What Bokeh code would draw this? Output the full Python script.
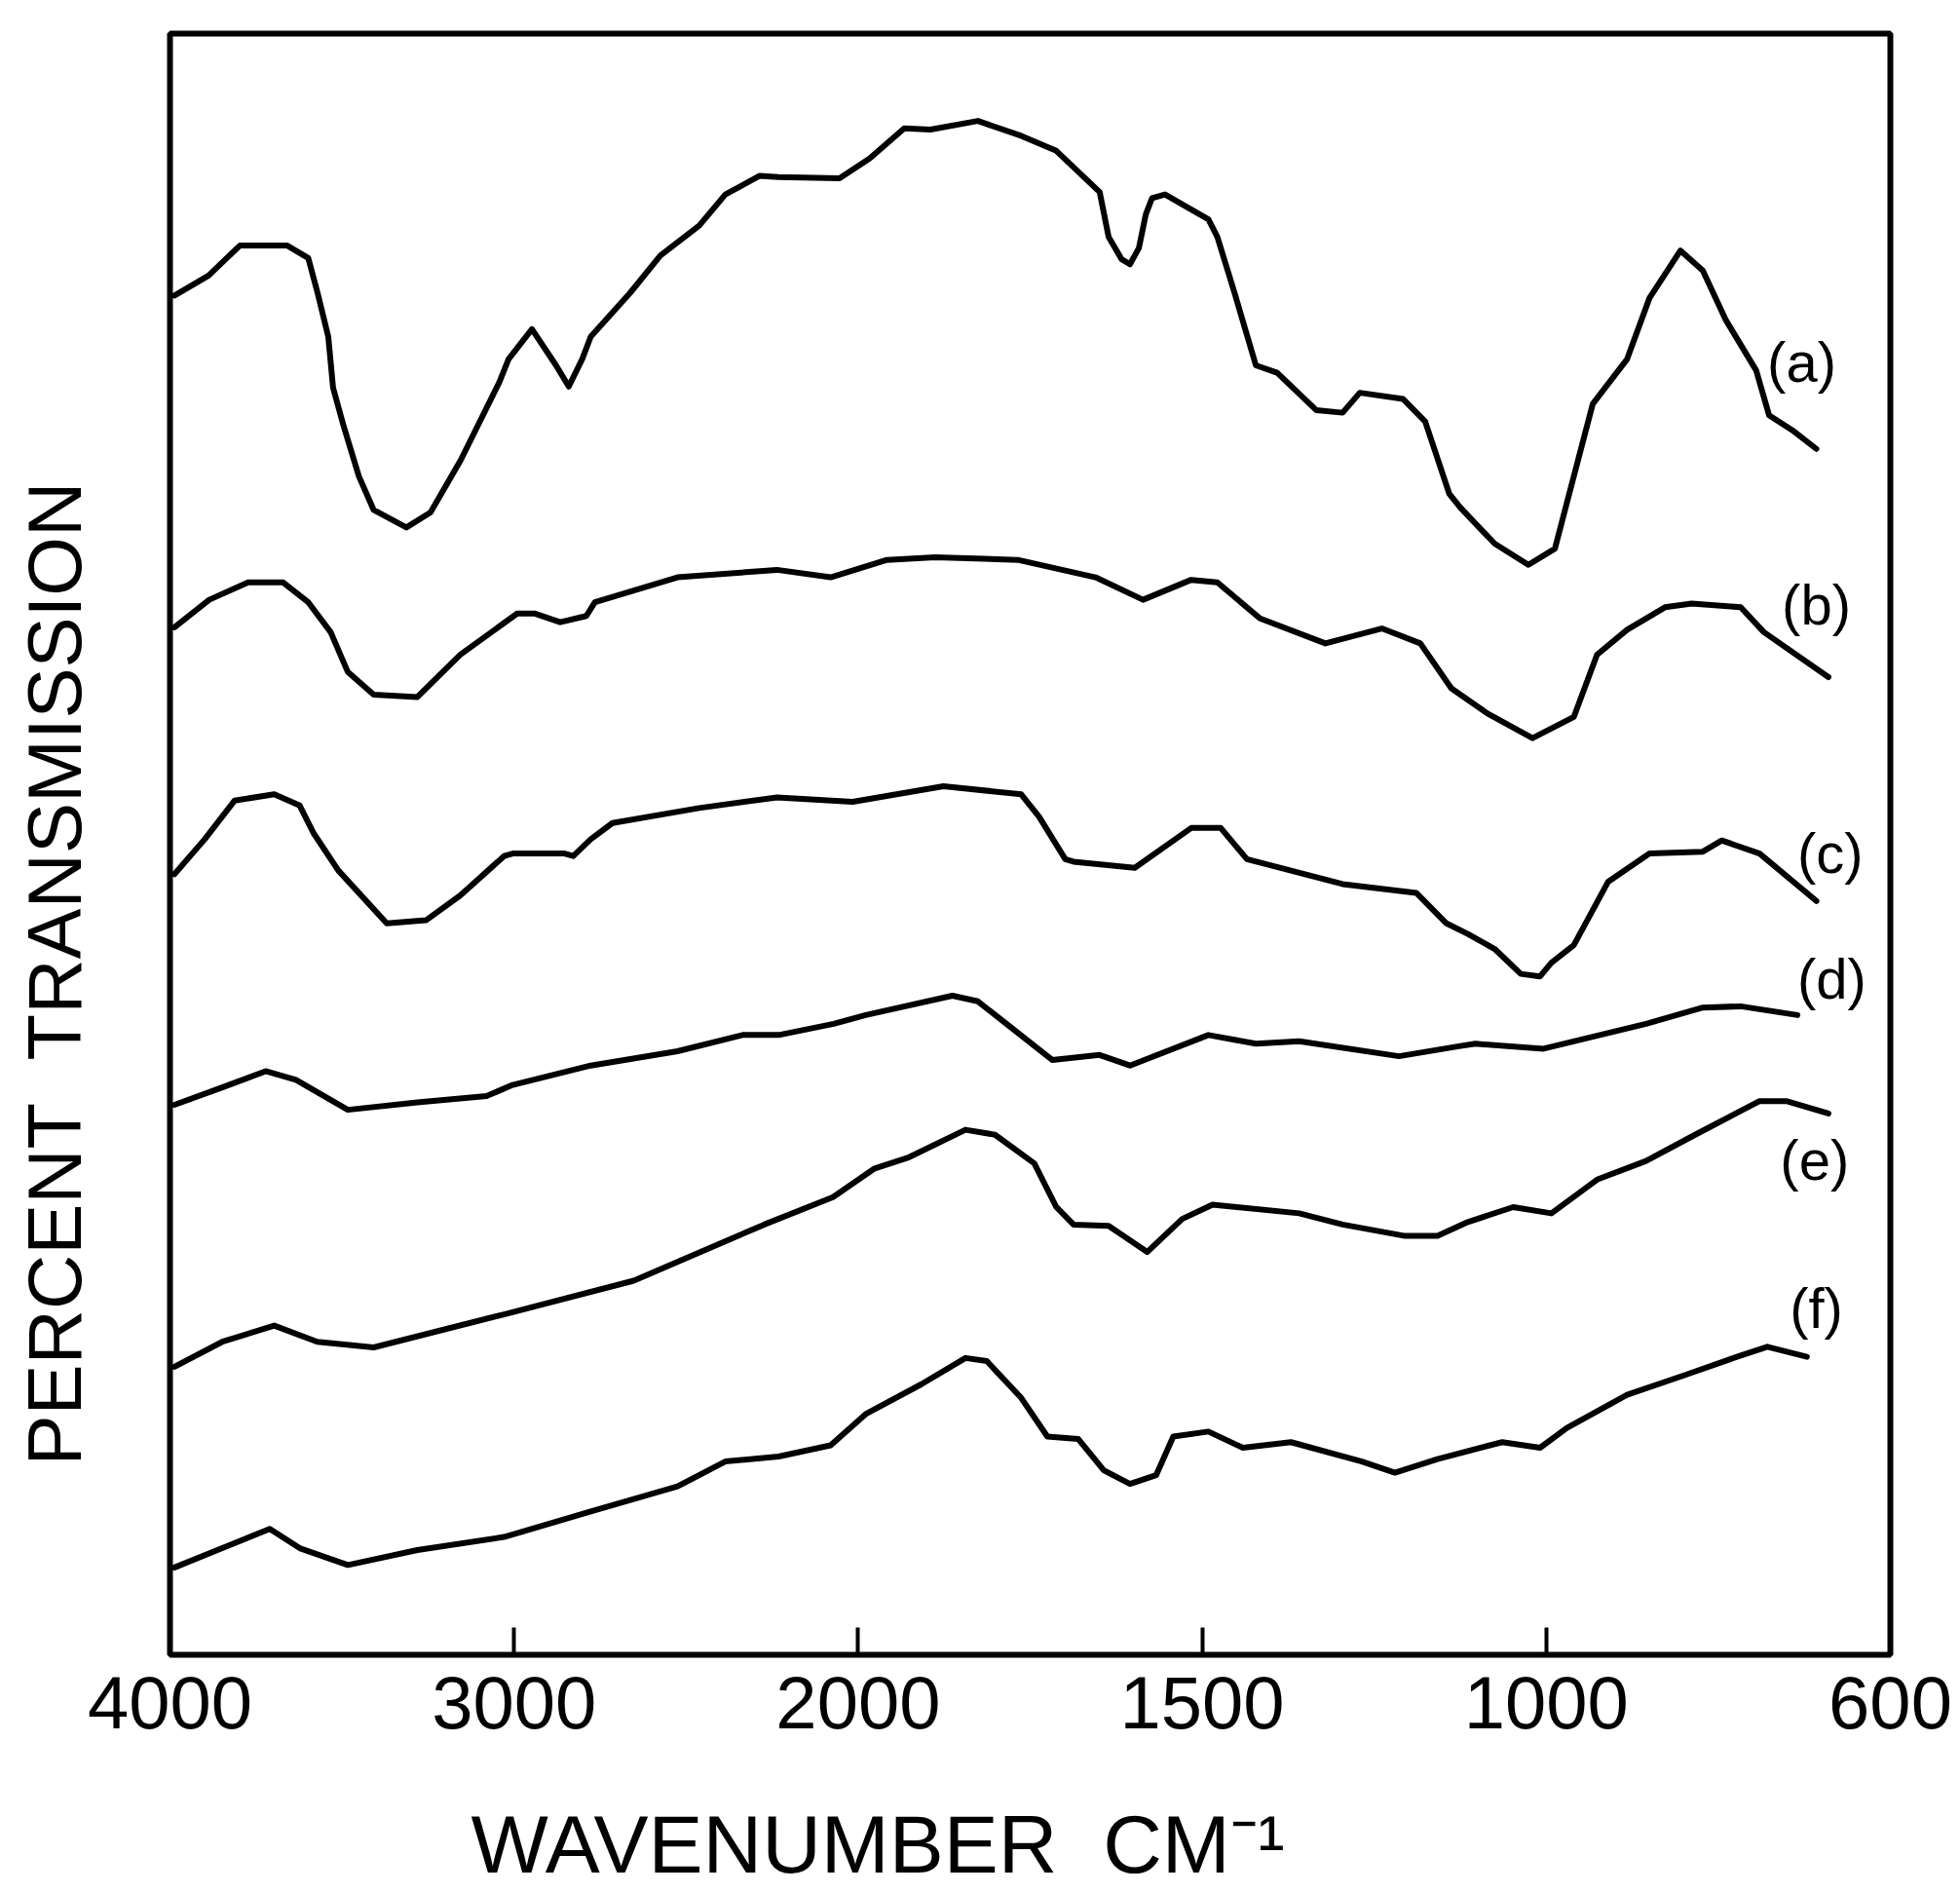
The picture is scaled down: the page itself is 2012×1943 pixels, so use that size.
import numpy as np
from bokeh.plotting import figure
from bokeh.models import Range1d, FixedTicker, Title, LinearAxis
from bokeh.core.properties import value
from bokeh.embed import file_html
from bokeh.resources import INLINE

# ---- x scale: the chart changes scale at 2000 and 1000 cm-1 (equally spaced ticks)
TICK_WAVENUMBERS = [4000, 3000, 2000, 1500, 1000, 600]
TICK_LABELS = ["4000", "3000", "2000", "1500", "1000", "600"]

# ---- spectra (wavenumber cm-1, relative transmission, curves offset vertically)
a_wn = [3987, 3888, 3797, 3659, 3598, 3571, 3540, 3526, 3495, 3451, 3408, 3313, 3243, 3155, 3042, 3016,
        2948, 2878, 2841, 2802, 2777, 2663, 2575, 2462, 2386, 2286, 2232, 2054, 1983, 1933, 1895, 1826,
        1763, 1712, 1649, 1636, 1617, 1605, 1592, 1582, 1573, 1554, 1491, 1478, 1453, 1422, 1391, 1334,
        1296, 1271, 1208, 1176, 1141, 1125, 1075, 1026, 990, 968, 946, 906, 880, 844, 818, 791, 756, 741,
        712, 686]
a_t = [109.0, 110.6, 113.0, 113.0, 112.0, 109.2, 105.7, 101.6, 98.5, 94.5, 91.8, 90.4, 91.6, 95.8, 102.1,
       103.9, 106.3, 103.4, 101.7, 103.9, 105.7, 109.2, 112.2, 114.6, 117.1, 118.6, 118.5, 118.4, 120.0,
       122.4, 122.3, 123.0, 121.8, 120.6, 117.3, 113.7, 111.9, 111.5, 112.8, 115.5, 116.8, 117.1, 115.1,
       113.7, 109.2, 103.4, 102.8, 99.8, 99.6, 101.2, 100.7, 98.9, 93.1, 92.0, 89.1, 87.4, 88.7, 94.5,
       100.3, 103.9, 108.8, 112.6, 111.0, 107.0, 103.0, 99.4, 98.1, 96.7]

b_wn = [3987, 3886, 3773, 3672, 3598, 3533, 3483, 3408, 3281, 3156, 2991, 2941, 2866, 2790, 2765, 2525,
        2236, 2080, 1958, 1888, 1768, 1655, 1586, 1516, 1478, 1416, 1321, 1239, 1183, 1138, 1086, 1020,
        968, 941, 906, 862, 831, 774, 747, 672]
b_t = [82.4, 84.6, 86.0, 86.0, 84.4, 82.0, 78.8, 77.0, 76.8, 80.2, 83.5, 83.5, 82.8, 83.3, 84.4, 86.4,
       87.0, 86.4, 87.8, 88.0, 87.8, 86.4, 84.6, 86.2, 86.0, 83.1, 81.1, 82.3, 81.1, 77.5, 75.5, 73.5,
       75.2, 80.2, 82.2, 84.0, 84.3, 84.0, 82.0, 78.4]

c_wn = [3987, 3899, 3812, 3697, 3623, 3583, 3511, 3370, 3256, 3156, 3029, 3004, 2853, 2828, 2777, 2714,
        2462, 2236, 2016, 1876, 1763, 1737, 1699, 1687, 1598, 1516, 1473, 1435, 1296, 1189, 1145, 1114,
        1075, 1037, 1009, 994, 968, 928, 880, 818, 796, 752, 686]
c_t = [62.6, 65.4, 68.5, 69.0, 68.1, 65.9, 62.9, 58.65, 58.9, 60.9, 64.05, 64.25, 64.25, 64.05, 65.4,
       66.7, 67.9, 68.75, 68.4, 69.65, 69.0, 67.2, 63.8, 63.6, 63.1, 66.3, 66.3, 63.8, 61.8, 61.1, 58.65,
       57.8, 56.6, 54.6, 54.4, 55.5, 56.9, 62.0, 64.25, 64.4, 65.3, 64.25, 60.45]

d_wn = [3987, 3848, 3722, 3634, 3483, 3281, 3080, 3004, 2777, 2525, 2336, 2231, 2071, 1989, 1863, 1826,
        1718, 1649, 1605, 1491, 1422, 1359, 1214, 1127, 1103, 1004, 884, 818, 774, 708]
d_t = [44.1, 45.5, 46.8, 46.1, 43.7, 44.3, 44.8, 45.7, 47.25, 48.4, 49.7, 49.7, 50.6, 51.3, 52.85, 52.4,
       47.7, 48.1, 47.25, 49.7, 49.0, 49.2, 48.0, 48.8, 49.0, 48.6, 50.6, 51.9, 52.0, 51.3]

e_wn = [3987, 3848, 3697, 3572, 3408, 3029, 2652, 2273, 2073, 1976, 1926, 1844, 1801, 1744, 1712, 1687,
        1636, 1580, 1529, 1485, 1359, 1296, 1207, 1158, 1114, 1048, 994, 941, 884, 827, 752, 721, 672]
e_t = [23.1, 25.1, 26.4, 25.1, 24.65, 27.3, 30.0, 34.5, 36.7, 39.0, 39.9, 42.1, 41.7, 39.4, 35.9, 34.5,
       34.4, 32.3, 34.95, 36.1, 35.4, 34.5, 33.6, 33.6, 34.7, 35.9, 35.4, 38.1, 39.6, 41.7, 44.4, 44.4,
       43.4]

f_wn = [3987, 3848, 3710, 3623, 3483, 3281, 3029, 2777, 2525, 2386, 2231, 2080, 1989, 1908, 1844, 1813,
        1763, 1725, 1680, 1643, 1605, 1567, 1542, 1491, 1441, 1371, 1268, 1220, 1158, 1064, 1009, 976,
        906, 840, 774, 743, 697]
f_t = [7.0, 8.55, 10.1, 8.55, 7.2, 8.4, 9.45, 11.5, 13.5, 15.5, 15.9, 16.8, 19.3, 21.7, 23.8, 23.55,
       20.6, 17.5, 17.3, 14.8, 13.7, 14.4, 17.5, 17.9, 16.6, 17.05, 15.5, 14.6, 15.7, 17.05, 16.6, 18.2,
       20.85, 22.4, 24.0, 24.7, 23.9]

CURVE_LABELS = ["(a)", "(b)", "(c)", "(d)", "(e)", "(f)"]
LABEL_WN = [703, 686, 670, 668, 688, 686]
LABEL_T = [103.7, 84.2, 64.3, 54.2, 39.7, 27.8]

X_TITLE = "WAVENUMBER\u00a0\u00a0CM\u207b\u00b9"
Y_TITLE = "PERCENT\u00a0\u00a0TRANSMISSION"

# ---- piecewise-linear wavenumber axis (equal spacing between printed ticks)
_xp = np.array(TICK_WAVENUMBERS[::-1], dtype=float)
_fp = np.arange(len(TICK_WAVENUMBERS))[::-1].astype(float)


def axis_pos(wn):
    return np.interp(np.asarray(wn, dtype=float), _xp, _fp)


TICK_POS = list(axis_pos(TICK_WAVENUMBERS))

p = figure(frame_width=1766, frame_height=1664,
           min_border_left=174, min_border_right=72, min_border_top=34, min_border_bottom=245,
           x_range=Range1d(0, len(TICK_WAVENUMBERS) - 1), y_range=Range1d(0, 130),
           output_backend="svg", toolbar_location=None,
           background_fill_color="white", border_fill_color="white")

p.grid.visible = False
p.outline_line_color = "black"
p.outline_line_width = 6

ax = p.xaxis[0]
ax.ticker = FixedTicker(ticks=TICK_POS)
ax.major_label_overrides = {float(t): lab for t, lab in zip(TICK_POS, TICK_LABELS)}
ax.major_label_text_font = "Liberation Sans"
ax.major_label_text_font_size = "76px"
ax.major_label_text_color = "black"
ax.major_label_standoff = 22
ax.major_tick_in = 28
ax.major_tick_out = 0
ax.major_tick_line_width = 4
ax.major_tick_line_color = "black"
ax.minor_tick_line_color = None
ax.axis_line_color = None


def blank_axis(axis, gap):
    # one invisible, unlabelled tick: the axis only reserves room beside the frame
    axis.ticker = FixedTicker(ticks=[0])
    axis.major_label_overrides = {0: ""}
    axis.major_label_text_font_size = "1px"
    axis.major_tick_out = gap
    axis.major_tick_in = 0
    axis.minor_tick_out = 0
    axis.minor_tick_in = 0
    axis.major_label_standoff = 0
    axis.axis_line_color = None
    axis.major_tick_line_color = None
    axis.minor_tick_line_color = None


blank_axis(p.yaxis[0], 73)
spacer = LinearAxis()
blank_axis(spacer, 69)
p.add_layout(spacer, "below")

for wn, t in [(a_wn, a_t), (b_wn, b_t), (c_wn, c_t), (d_wn, d_t), (e_wn, e_t), (f_wn, f_t)]:
    p.line(axis_pos(wn), t, line_color="black", line_width=6,
           line_join="round", line_cap="round")

p.text(x=axis_pos(LABEL_WN), y=LABEL_T, text=CURVE_LABELS,
       text_font=value("Liberation Sans"), text_font_size="58px",
       text_align="center", text_baseline="middle", text_color="black")

# axis titles
p.add_layout(Title(text=X_TITLE, align="left", offset=309, standoff=0, vertical_align="top",
                   text_font="Liberation Sans", text_font_size="84px",
                   text_font_style="normal", text_color="black"), "below")
p.add_layout(Title(text=Y_TITLE, align="left", offset=194, standoff=0, vertical_align="top",
                   text_font="Liberation Sans", text_font_size="78px",
                   text_font_style="normal", text_color="black"), "left")

open("out.html", "w").write(file_html(p, INLINE))
